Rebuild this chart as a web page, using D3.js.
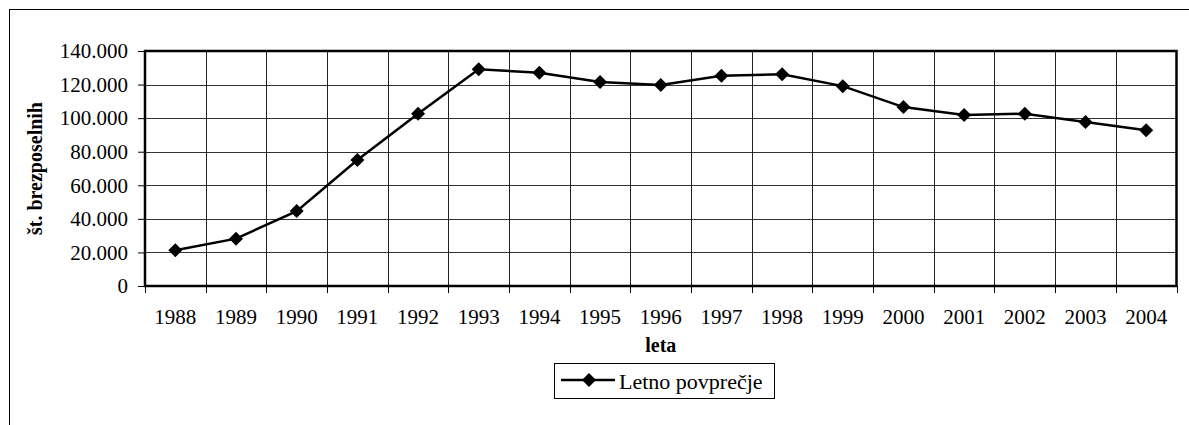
<!DOCTYPE html>
<html>
<head>
<meta charset="utf-8">
<title>Brezposelni</title>
<script src="https://d3js.org/d3.v7.min.js"></script>
<style>
body { margin: 0; background: #fff; }
svg text { font-family: "Liberation Serif", "Times New Roman", serif; fill: #000; }
</style>
</head>
<body>
<script>
// leta in letno povprecje brezposelnih
var years = ["1988","1989","1990","1991","1992","1993","1994","1995","1996",
             "1997","1998","1999","2000","2001","2002","2003","2004"];
var avgUnemployed = [21311, 28218, 44623, 75079, 102593, 129087, 127056, 121483, 119799,
                     125189, 126080, 119068, 106601, 101857, 102635, 97674, 92826];
var yTicks = [0, 20000, 40000, 60000, 80000, 100000, 120000, 140000];
var seriesName = "Letno povprečje";

var W = 1189, H = 425;
var plot = {left: 145, top: 51, right: 1176.5, bottom: 286};

var svg = d3.select("body").append("svg")
    .attr("width", W).attr("height", H);

// outer frame (cut off at right/bottom)
svg.append("rect")
    .attr("x", 9.5).attr("y", 9.5)
    .attr("width", W + 20).attr("height", H + 20)
    .attr("fill", "none").attr("stroke", "#000").attr("stroke-width", 1);

var x = d3.scaleBand().domain(years).range([plot.left, plot.right]);
var y = d3.scaleLinear().domain([0, 140000]).range([plot.bottom, plot.top]);

var fmt = function(v) { return v === 0 ? "0" : d3.format(",")(v).replace(/,/g, "."); };

// grid
var g = svg.append("g");
g.selectAll(".hg").data(yTicks).enter().append("line")
    .attr("x1", plot.left).attr("x2", plot.right)
    .attr("y1", function(d) { return Math.round(y(d)) + 0.5; })
    .attr("y2", function(d) { return Math.round(y(d)) + 0.5; })
    .attr("stroke", "#333").attr("stroke-width", 1);
g.selectAll(".vg").data(years.slice(1)).enter().append("line")
    .attr("x1", function(d) { return Math.round(x(d)) + 0.5; })
    .attr("x2", function(d) { return Math.round(x(d)) + 0.5; })
    .attr("y1", plot.top).attr("y2", plot.bottom)
    .attr("stroke", "#222").attr("stroke-width", 1);

// plot border
svg.append("rect")
    .attr("x", plot.left).attr("y", plot.top)
    .attr("width", plot.right - plot.left).attr("height", plot.bottom - plot.top)
    .attr("fill", "none").attr("stroke", "#000").attr("stroke-width", 2.5);

// y axis
var yAxis = d3.axisLeft(y).tickValues(yTicks).tickSize(7).tickPadding(10).tickFormat(fmt);
var ya = svg.append("g").attr("transform", "translate(" + plot.left + ",0)").call(yAxis);
ya.attr("font-family", null).attr("font-size", null);
ya.select(".domain").remove();
ya.selectAll("line").attr("stroke", "#000");
ya.selectAll("text").style("font-size", "21px");

// x axis: ticks at category boundaries
var bounds = years.map(function(d) { return x(d); }).concat([plot.right]);
svg.append("g").selectAll("line").data(bounds).enter().append("line")
    .attr("x1", function(d) { return Math.round(d) + 0.5; })
    .attr("x2", function(d) { return Math.round(d) + 0.5; })
    .attr("y1", plot.bottom).attr("y2", plot.bottom + 7)
    .attr("stroke", "#000");
svg.append("g").selectAll("text").data(years).enter().append("text")
    .attr("x", function(d) { return x(d) + x.bandwidth() / 2; })
    .attr("y", 324)
    .attr("text-anchor", "middle")
    .style("font-size", "21px")
    .text(function(d) { return d; });

// axis titles
svg.append("text")
    .attr("x", (plot.left + plot.right) / 2).attr("y", 352)
    .attr("text-anchor", "middle").style("font-size", "20px").style("font-weight", "bold")
    .text("leta");
svg.append("text")
    .attr("transform", "translate(42," + (plot.top + plot.bottom) / 2 + ") rotate(-90)")
    .attr("text-anchor", "middle").style("font-size", "20px").style("font-weight", "bold")
    .text("št. brezposelnih");

// series
var cx = function(d, i) { return x(years[i]) + x.bandwidth() / 2; };
var line = d3.line()
    .x(function(d, i) { return cx(d, i); })
    .y(function(d) { return y(d); });
svg.append("path").datum(avgUnemployed)
    .attr("d", line).attr("fill", "none")
    .attr("stroke", "#000").attr("stroke-width", 2.5);

var diamond = d3.symbol().type(d3.symbolDiamond2).size(125);
svg.selectAll(".pt").data(avgUnemployed).enter().append("path")
    .attr("d", diamond)
    .attr("transform", function(d, i) { return "translate(" + cx(d, i) + "," + y(d) + ")"; })
    .attr("fill", "#000");

// legend
var lg = svg.append("g");
lg.append("rect").attr("x", 554.5).attr("y", 363.5).attr("width", 220).attr("height", 35)
    .attr("fill", "#fff").attr("stroke", "#000").attr("stroke-width", 1);
lg.append("line").attr("x1", 561).attr("x2", 615).attr("y1", 380).attr("y2", 380)
    .attr("stroke", "#000").attr("stroke-width", 2.5);
lg.append("path").attr("d", diamond)
    .attr("transform", "translate(589,380)").attr("fill", "#000");
lg.append("text").attr("x", 619).attr("y", 389).style("font-size", "22px").text(seriesName);
</script>
</body>
</html>
